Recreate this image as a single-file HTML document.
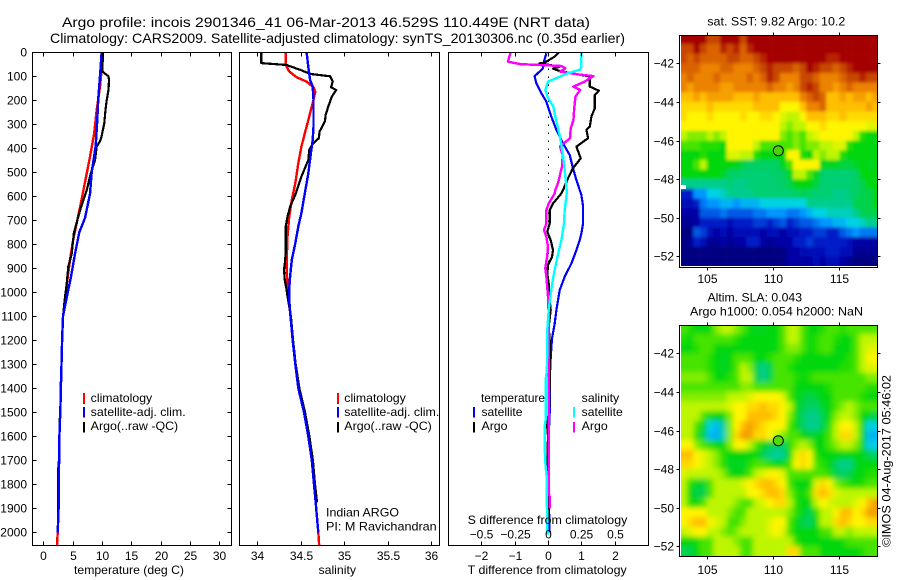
<!DOCTYPE html>
<html lang="en">
<head>
<meta charset="utf-8">
<title>Argo profile 2901346_41</title>
<style>
html,body{margin:0;padding:0;background:#fff;}
svg{display:block;}
text{font-family:"Liberation Sans",sans-serif;font-size:12px;fill:#000;}
</style>
</head>
<body>
<svg id="chart" xmlns="http://www.w3.org/2000/svg" width="900" height="580" viewBox="0 0 900 580">
  <rect width="900" height="580" fill="#fff"/>
  <defs>
    <clipPath id="clipT"><rect x="32" y="52" width="200" height="494"/></clipPath>
    <clipPath id="clipS"><rect x="239" y="52" width="201" height="494"/></clipPath>
    <clipPath id="clipD"><rect x="448" y="52" width="201" height="494"/></clipPath>
    <clipPath id="clipSst"><rect x="681" y="36" width="196" height="230"/></clipPath>
    <clipPath id="clipSla"><rect x="681" y="326" width="196" height="230"/></clipPath>
    <filter id="blurSst" filterUnits="userSpaceOnUse" x="650" y="10" width="250" height="280"><feGaussianBlur stdDeviation="1.5"/></filter>
    <filter id="blurSla" filterUnits="userSpaceOnUse" x="650" y="300" width="250" height="280"><feGaussianBlur stdDeviation="2.6"/></filter>
  </defs>

  <text x="62" y="27" textLength="528" lengthAdjust="spacingAndGlyphs" style="font-size:14px">Argo profile: incois 2901346_41 06-Mar-2013 46.529S 110.449E (NRT data)</text>
  <text x="50" y="43" textLength="575" lengthAdjust="spacingAndGlyphs" style="font-size:14px">Climatology: CARS2009. Satellite-adjusted climatology: synTS_20130306.nc (0.35d earlier)</text>

  <g id="panelT"></g>
  <g id="panelS"></g>
  <g id="panelD"></g>
  <g id="mapSst"></g>
  <g id="mapSla"></g>

  <text x="74" y="574" textLength="110" lengthAdjust="spacingAndGlyphs">temperature (deg C)</text>
  <text x="318.5" y="574" textLength="37.5" lengthAdjust="spacingAndGlyphs">salinity</text>
  <text x="467.7" y="574" textLength="159" lengthAdjust="spacingAndGlyphs">T difference from climatology</text>
  <text x="467.7" y="524" textLength="159.6" lengthAdjust="spacingAndGlyphs">S difference from climatology</text>

  <g>
    <rect x="83" y="393" width="2" height="11" fill="#f00"/>
    <rect x="83" y="407" width="2" height="10.5" fill="#00f"/>
    <rect x="83" y="422" width="2" height="10.5" fill="#000"/>
    <text x="90.7" y="402" textLength="61.5" lengthAdjust="spacingAndGlyphs">climatology</text>
    <text x="90.7" y="416" textLength="95" lengthAdjust="spacingAndGlyphs">satellite-adj. clim.</text>
    <text x="90.7" y="430" textLength="87.5" lengthAdjust="spacingAndGlyphs">Argo(..raw -QC)</text>
  </g>
  <g>
    <rect x="337" y="393" width="2" height="11" fill="#f00"/>
    <rect x="337" y="407" width="2" height="10.5" fill="#00f"/>
    <rect x="337" y="422" width="2" height="10.5" fill="#000"/>
    <text x="344.3" y="402" textLength="61.5" lengthAdjust="spacingAndGlyphs">climatology</text>
    <text x="344.3" y="416" textLength="95" lengthAdjust="spacingAndGlyphs">satellite-adj. clim.</text>
    <text x="344.3" y="430" textLength="87.5" lengthAdjust="spacingAndGlyphs">Argo(..raw -QC)</text>
  </g>
  <text x="326" y="516.7" textLength="73" lengthAdjust="spacingAndGlyphs">Indian ARGO</text>
  <text x="326" y="530.7" textLength="110.7" lengthAdjust="spacingAndGlyphs">PI: M Ravichandran</text>
  <g>
    <rect x="473" y="407" width="2" height="10.5" fill="#00f"/>
    <rect x="473" y="422" width="2" height="10.5" fill="#000"/>
    <rect x="573" y="407" width="2" height="10.5" fill="#0ff"/>
    <rect x="573" y="422" width="2" height="10.5" fill="#f0f"/>
    <text x="481" y="402" textLength="64" lengthAdjust="spacingAndGlyphs">temperature</text>
    <text x="481.5" y="416" textLength="41" lengthAdjust="spacingAndGlyphs">satellite</text>
    <text x="481.5" y="430" textLength="26" lengthAdjust="spacingAndGlyphs">Argo</text>
    <text x="581.7" y="402" textLength="37.5" lengthAdjust="spacingAndGlyphs">salinity</text>
    <text x="581.7" y="416" textLength="41" lengthAdjust="spacingAndGlyphs">satellite</text>
    <text x="581.7" y="430" textLength="26" lengthAdjust="spacingAndGlyphs">Argo</text>
  </g>

  <text x="707.3" y="25.7" textLength="138" lengthAdjust="spacingAndGlyphs">sat. SST: 9.82 Argo: 10.2</text>
  <text x="707.5" y="301.3" textLength="94.5" lengthAdjust="spacingAndGlyphs">Altim. SLA: 0.043</text>
  <text x="690" y="315.7" textLength="173" lengthAdjust="spacingAndGlyphs">Argo h1000: 0.054 h2000: NaN</text>
  <text x="0" y="0" transform="translate(890.5 547) rotate(-90)" textLength="172" lengthAdjust="spacingAndGlyphs">©IMOS 04-Aug-2017 05:46:02</text>
</svg>

<script>
/* ---------- depth axis ---------- */
var depthTicks = [0,100,200,300,400,500,600,700,800,900,1000,1100,1200,1300,1400,1500,1600,1700,1800,1900,2000];

/* ---------- temperature panel ---------- */
var tempTicks = [0,5,10,15,20,25,30];
var climTDepth = [75,143,240,340,435,520,615,700,780,865,965,1020,1100,1200,1300,1400,1500,1600,1700,1800,1900,2000,2055];
var climTValues = [9.94,9.66,9.1,8.65,7.95,7.27,6.5,5.8,5.1,4.55,4.0,3.8,3.36,3.2,3.1,3.0,2.9,2.75,2.7,2.64,2.6,2.45,2.33];
var argoTDepth = [0,45,80,100,115,157,200,240,295,350,370,393,450,505,575,645,700,755,840,893,965,1020,1100,1200,1300,1400,1500,1550,1600,1700,1750,1800,1900,1950];
var argoTValues = [10.2,10.1,10.05,11.1,11.2,11.1,10.8,10.6,10.4,9.94,9.66,9.1,8.8,8.07,7.4,6.42,5.8,5.2,4.83,4.26,3.98,3.7,3.35,3.2,3.1,2.95,2.9,2.75,2.75,2.65,2.5,2.5,2.55,2.55];
var satTDepth = [0,100,185,280,390,500,590,690,750,840,935,990,1030,1100,1200,1300,1400,1500,1600,1700,1800,1900,2000];
var satTValues = [9.94,9.66,9.38,9.2,8.92,8.24,7.95,7.1,6.14,5.4,4.72,4.26,3.92,3.36,3.2,3.1,3.0,2.9,2.75,2.7,2.64,2.6,2.45];

/* ---------- salinity panel ---------- */
var salTicks = [34,34.5,35,35.5,36];
var climSDepth = [0,53,80,104,122,146,164,198,254,338,393,463,546,615,685,768,880,990,1030,1100,1200,1300,1400,1500,1600,1700,1800,1900,2000,2055];
var climSValues = [34.33,34.33,34.37,34.456,34.57,34.65,34.67,34.65,34.61,34.55,34.51,34.475,34.44,34.40,34.37,34.35,34.34,34.35,34.365,34.385,34.41,34.44,34.475,34.54,34.59,34.63,34.655,34.68,34.705,34.715];
var argoSDepth = [0,45,53,75,90,100,122,146,157,185,226,260,288,330,358,382,407,449,518,594,643,685,726,838,880,908,949,990,1018,1100,1200,1300,1400,1500,1600,1700,1800,1875];
var argoSValues = [34.05,34.05,34.34,34.51,34.61,34.84,34.87,34.85,34.91,34.86,34.82,34.79,34.78,34.72,34.71,34.64,34.6,34.59,34.51,34.44,34.38,34.35,34.33,34.33,34.32,34.31,34.32,34.34,34.35,34.39,34.415,34.445,34.487,34.552,34.602,34.642,34.667,34.69];
var satSDepth = [0,60,115,143,198,310,365,420,505,588,670,726,796,865,935,990,1030,1100,1200,1300,1400,1500,1600,1700,1800,1900,2000];
var satSValues = [34.57,34.59,34.61,34.64,34.65,34.65,34.64,34.62,34.59,34.55,34.51,34.475,34.44,34.40,34.38,34.37,34.37,34.385,34.41,34.44,34.475,34.54,34.59,34.63,34.655,34.68,34.705];

/* ---------- difference panel ---------- */
var diffTicks = [-2,-1,0,1,2];
var diffTickLabels = ['\u22122','\u22121','0','1','2'];
var sDiffTickLabels = ['\u22120.5','\u22120.25','0','0.25','0.5'];
var satDTDepth = [4,39,66,80,100,129,170,205,268,323,379,428,483,532,574,595,643,713,755,783,824,880,935,991,1033,1074,1130,1192,1300,1400,1500,1600,1700,1800,1900,2000];
var satDTValues = [-0.05,-0.12,-0.15,-0.25,-0.4,-0.35,-0.2,-0.05,0.1,0.25,0.45,0.65,0.75,0.85,0.95,1.0,1.05,1.05,1.0,0.95,0.85,0.7,0.5,0.35,0.3,0.25,0.2,0.12,0.07,0.05,0.05,0.02,0,0,0.03,0.05];
var argoDTDepth = [0,18,43,46,60,68,78,86,101,143,160,178,233,268,310,323,358,393,442,483,525,574,588,630,657,713,748,783,824,852,887,921,963,1033,1074,1144,1200,1400,1500,1550,1600,1700,1900,1950];
var argoDTValues = [0.32,0.2,-0.1,-0.25,0.35,0.15,0.35,0.65,1.25,1.25,1.52,1.4,1.4,1.3,1.25,1.15,1.2,0.85,0.98,0.75,0.6,0.45,0.4,0.15,0.05,0.05,-0.02,0.08,0.15,0.12,0,-0.02,0.02,0.05,0.08,0.02,0.05,0.05,0.03,-0.03,0,-0.02,0.02,0.02];
var argoDSDepth = [0,39,49,57,67,80,92,99,122,143,157,185,240,282,317,358,393,428,476,545,574,588,630,657,713,741,769,810,845,900,935,1018,1101,1200,1400,1837,1850,1900];
var argoDSValues = [-0.28,-0.3,-0.21,0.1,0.13,0.09,0.225,0.34,0.275,0.19,0.24,0.205,0.195,0.19,0.17,0.165,0.09,0.11,0.105,0.075,0.055,0.05,0.005,-0.012,-0.012,-0.03,-0.012,0,-0.005,-0.02,-0.012,0,0.005,0.005,0.005,0.005,0.012,0.012];
var satDSDepth = [0,60,72,87,122,157,191,226,282,351,421,491,574,588,657,713,783,852,935,1005,1074,1158,1200,1324,1366,1532,1560,1650,1726,1770,1880,1920,1990,2010];
var satDSValues = [0.25,0.25,0.24,0.15,0,-0.02,0,0.04,0.06,0.09,0.11,0.125,0.14,0.14,0.125,0.12,0.1,0.07,0.04,0.02,0.005,-0.005,-0.005,-0.008,-0.018,-0.018,-0.025,-0.025,-0.018,-0.01,-0.01,-0.005,-0.005,0];

/* ---------- map axes ---------- */
var lonTicks = [105,110,115];
var latTicks = [-42,-44,-46,-48,-50,-52];
var argoLon = 110.449;
var argoLat = -46.529;
var mapLonStart = 103;
var mapLatStart = -40.5;
var mapCellDeg = 0.5;

/* ---------- SST map levels (colour-scale level per 0.5 degree cell, north to south) ---------- */
var sstRows = [
[14,14,14,14,13,13,14,14,14,13,14,14,14,14,14,14,14,14,14,14,14,14,14,14,14,14,14,14,14,14],
[13,13,14,13,12.5,12.5,13.5,13,13.5,12.5,13.5,14,14,14,14,14,14,14,14,14,14,14,14,14,14,14,14,14,14,14],
[13,12.5,13,12.5,12.5,12.5,12.5,13,13,12.5,12.5,13,13.5,14,14,14,14,14,14,14,14,14,13.5,13.5,14,14,14,14,14,14],
[12.5,12.5,12.5,12,12,12,12.5,12.5,12,12,12,12.5,13,13.5,13,13,13,12.5,13,14,13.5,13,13,12.5,13,13.5,14,14,14,14],
[12,12.5,12,12,12,12.5,12,12,12,12,12.5,12,12.5,13.5,13,12,12,12,13,13,12.5,12,12,12,12.5,13,13,13.5,13,13],
[12,11.5,12,12,12,12,11.5,11.5,12,12,12,12,12,12.5,12,12,11.5,12,13,13.5,13,12,12,11.5,12,12.5,12,12,12,12],
[11,11,11.5,11,11.5,11.5,11.5,11.5,11,11,11,11.5,11,11,11,11,11,11,12,12.5,13,12.5,11,11,11.5,11,11.5,11.5,11,11.5],
[10.5,10.5,10.5,10.5,11,10.5,10.5,10.5,10.5,10.5,10.5,11,11,11,11,10,10,10,11,12,12,12.5,11,11,11,11,11,11,11.5,11],
[10.5,10,10,10,10.5,10,10,10,10,10.5,10,10,10.5,10.5,10,9.5,9,9,10,11,11,11,10.5,10.5,11,10.5,10.5,10.5,10.5,10.5],
[10,10,10,10,10,10,10,10,10,10,10,10,10,10,10,9,8.5,9,9,10,10,10.5,10,10,10,10,10,10,9.5,9.5],
[9,8.5,8.5,8.5,9,8.5,9,10,10,10,10,10,10,10,10,8.5,8,8.5,8,9,9.5,10,10,10,10,10,9,7.5,7,7],
[8,8,8,7.5,7.5,7.5,7,10,10,10,10,9,8,8,8,8,8,8.5,8,8.5,8.5,9,9,9.5,9.5,7.5,7,7,7,7],
[7,7,7,7.5,7,7,7,9.5,9.5,9,9,7.5,7,7,7,7,10,10,7.5,7,9,8.5,9,9,7.5,7,7,7,7,7],
[7,7,8,9,7,7,7,7,6.8,6.5,6.3,6.3,6.3,6.3,6.3,6.8,8,10,10,10,10,6.8,6.8,6.8,6.6,6.6,6.8,7,6.8,7],
[7,7,7,7,7,7,6.8,6.3,6.3,6.2,6.2,6.2,6.2,6.2,6.3,6.3,6.8,9,9,8,6.8,6.3,6.2,6.2,6.2,6.2,6.3,7,7,7],
[6,6,6,6,6,6,6,6.2,6,6,6.2,6.2,6.2,6.2,6.2,6.3,6.5,7,7,7,6.6,6.2,6.2,6.2,6.2,6.2,6.3,6.5,7,7],
[2,2,4,4,5,5,5.5,6,6,6,6,6.2,6.2,6.2,6.2,6.2,6.2,6.3,6.5,6.3,6.2,6.2,6.2,6,6,6.2,6.3,6.5,6.5,7],
[1.5,1.5,2,3.5,4,4,4.5,4.5,4,4.5,4.5,4.5,5,5,5,5,5,5,5,6,6,6,6,6,6,6,6.5,6.5,6.5,7],
[1,1,1,3,3,3,3.5,3,3,3,3,3.5,3.5,4,4,4,3.5,3.5,4,4.5,5,5,5.5,5.5,5.5,5.5,6,6.5,6.5,6.5],
[0.5,0.5,1,2,2,2,2,1.5,2,2,2,2.5,2.5,2,2.5,3,2,2.5,3,3,3.5,4,4,4.5,4.5,5,5,5.5,6,6],
[0,0,3,2.5,1.5,1,1.5,1,1.5,1.5,1.5,1.5,1,1.5,1.5,1,1.5,1.5,2,2,2.5,2.5,2,2,3,3.5,4,3.5,3.5,3.5],
[0,0.5,2,1.5,0.5,0.5,1,0.5,1,1,2,2,1,0.5,1,1,1,2,2,2.5,2,2,2,2,2,1.5,1,1,1,1],
[0,0,0,0,0,0,0,0,0,0,0,0,0,0,0,0,1,1,1.5,1.5,1.5,1.5,2,2,1.5,1.5,0.5,0.5,0.5,0.5],
[0,0,0,0,0,0,0,0,0,0,0,0,0,0,0,0,1,1,1,1,1.5,1,1.5,1.5,1,0.5,0,0,0,0]
];

/* ---------- altimeter SLA map levels ---------- */
var slaRows = [
[8,7.5,7,7,7,8.5,9,9,8.5,8,7,6.8,6.8,7,7,8,9,9,8,7,7,7.5,8,8,7.5,8,8,8,8,8],
[7.5,7,8,8,8,8,8,8,7.5,7,7,7,7,7,7,8,9,9,8,7,7.5,8,8,7.5,7,7,8,9,9,9],
[7,7,7.5,8,8,7,7,7,7,7,7,7,7,7,7,8,8.5,8.5,8,7,7.5,8,8,7,7,7,8,9,9.5,9.5],
[8,8,8,8,7.5,7,6.8,7,8,8,8,7,7,7.5,8,8,8,7.5,7,7,7,7,7,7,7,7.5,8,9,10,10],
[8,8,8,8,7.5,7,6.8,7,8,9,8.5,6.5,6,6.5,8,8,7.5,7,7,7,7,7,7,7,7.5,7.5,8,9,9.5,9.5],
[8.5,8.5,8.5,8.5,8,7,7,7.5,8,9,9,6.5,6,6.5,8,8,8,7.5,7,7.5,8,8,8,8,8,8,8,8,8.5,8.5],
[8,8,8,8,8,8,8,8,8,8.5,8.5,8,8,8,8,8,8,7,7,7,7,7,7.5,8,8,8,8,8,7.5,7.5],
[8.5,8.5,8.5,8.5,8.5,8.5,8.5,9,9,9,9.5,10,10,10,10,9.5,8,7,6.7,6.5,6.7,7,7,8,8,8,8,7.5,7,7],
[9,9,9,9,9,9,9,9.5,10,10,10.5,10.5,11,10.5,10.5,10,9,7,6.5,6.3,6.3,6.8,7,8,8.5,9,8.5,8,8,8],
[9,9,9,8,7.2,7,7,8.5,10,10,11,11,11,11,10.5,10,8.5,7,6.3,6,6,6.5,7,8.5,9,9,8.5,7,6.8,6.5],
[9,9,8,7,5,4.6,5.8,8.5,10,11,11.5,11,10.5,10,10,10,8,7,6.3,6,6,6.5,7.5,9,10,10,9,7,5,5.2],
[9,9,7.5,6.5,4.6,4.4,5.5,8.5,10.5,11.5,11.5,10.5,10.5,10,9,8.5,8,8,7,6.7,6.8,7,8,9,10.5,10.5,9,6.8,4.5,4.5],
[10,10,8.5,8,7.5,7,7,8.5,10,10,9,8,7,6.5,6.3,6.3,7.5,8.5,9,8.5,7,7,8,8.5,9,9,8.5,6.8,4.8,5],
[11,11,10,9.5,9,8.5,7.5,7,7,7,7,7,6.5,6,5.8,6,7,9.5,10.5,10,7.5,7,7,7,7,7,7,6.8,6.5,6.3],
[10.5,10.5,10,9.5,9,8.5,7.5,6.8,6.8,6.8,7.5,8,8,7.5,7,7,8,10,10.5,10,8,7.5,7,6.3,6,6,6.8,7,7,7],
[9.5,9,9,9,9,9,8.5,7.2,7,7,8,9,9.5,10,10,9.5,8,8,8,8,8,8,7.5,6.5,6.3,6.5,7,7,7.5,7.5],
[9,7.5,6.8,6.7,8,9,9,9,9,9.5,10,10.5,11,11,10.5,10,8,7,7,7,9.5,10.5,10,8.5,8,7.5,7,7.5,8,8],
[9,7,6.5,6.5,8,9,9,9,9,9,10,10,10.5,11,11,10.5,8.5,7.5,7,8,10.5,11,10.5,9.5,9,9,9,9,9,9],
[9,7.5,7,8,9,9,9,9,8.5,8,8,9,9.5,10,10.5,10.5,9,7.5,7,7,9,10,9.5,9,9,9,9.5,10,11,11.5],
[10,10,10,10,9,9,9,8.5,8,8,9,9,9,9,9,9,8.5,7.5,6.8,6.5,7.5,9,9,10,11,11,10,10.5,11.5,11.5],
[10,10.5,11,11,10,9.5,9,8,7.8,8.5,9,9,9,9.5,10,10,8,7,6.5,6.3,7,9,9,10.5,11,10.5,10,10,10.5,10.5],
[9,9.5,10,10,9,9,8.5,8,8.5,9,9,9,9,9.5,10,9.5,8,7,7,7,7,8,8,9,9,8.5,9,9,9,9],
[7,7,7.2,8,8,9,9,9,8.5,8,8,9,9,9,9,9,9,7.5,7,7,7,7,7,7,7.2,8,8,8,8,8],
[6.5,6.5,7,8,8,9,9,9,9,8,8,9,9,9,9,9,10.5,10.5,8,8,8,7,7,7,7,7,7,7.5,8,8]
];

/* ---------- colour scale ---------- */
var levelColors = [[0,0,128],[0,0,165],[0,30,200],[0,90,230],[0,150,255],[0,210,230],[0,205,140],[0,215,10],[70,228,0],[190,245,0],[255,245,0],[255,190,0],[235,130,0],[200,70,0],[165,0,0]];
function levelColor(v){
  var i=Math.max(0,Math.min(levelColors.length-2,Math.floor(v)));
  var f=Math.max(0,Math.min(1,v-i));
  var a=levelColors[i],b=levelColors[i+1];
  return 'rgb('+Math.round(a[0]+(b[0]-a[0])*f)+','+Math.round(a[1]+(b[1]-a[1])*f)+','+Math.round(a[2]+(b[2]-a[2])*f)+')';
}

/* ---------- helpers and axis functions ---------- */
var NS='http://www.w3.org/2000/svg';
function mk(parent,tag,attrs,txt){
  var e=document.createElementNS(NS,tag);
  for(var k in attrs){e.setAttribute(k,attrs[k]);}
  if(txt!==undefined){e.textContent=txt;}
  parent.appendChild(e);
  return e;
}
function depthY(d){return 52.3+d*0.24;}
function tempX(t){return 43.3+t*5.87;}
function salX(s){return 257+(s-34)*87;}
function dTX(t){return 548+t*33.4;}
function dSX(s){return 548+s*133.6;}
var PT={l:32.5,r:231.5,t:52.5,b:545.5};
var PS={l:239.5,r:439.5,t:52.5,b:545.5};
var PD={l:448.5,r:648.5,t:52.5,b:545.5};

function frame(g,p){
  var el=mk(g,'rect',{x:p.l,y:p.t,width:p.r-p.l,height:p.b-p.t,fill:'none',stroke:'#000','stroke-width':1,'shape-rendering':'crispEdges'});
  
  
}
function tickLine(g,x1,y1,x2,y2){
  var el=mk(g,'line',{x1:x1,y1:y1,x2:x2,y2:y2,stroke:'#000','stroke-width':1,'shape-rendering':'crispEdges'});
  
  
}
function tickText(g,x,y,anchor,s){
  var el=mk(g,'text',{x:x,y:y,'text-anchor':anchor},s);
  
  
}
function profile(g,clip,depths,values,xf,color,w,name){
  var pts=depths.map(function(d,i){return xf(values[i]).toFixed(1)+','+depthY(d).toFixed(1);}).join(' ');
  var el=mk(g,'polyline',{points:pts,fill:'none',stroke:color,'stroke-width':w,'stroke-linejoin':'round','shape-rendering':'crispEdges','clip-path':'url(#'+clip+')'});
  
  
}

/* ---------- temperature panel ---------- */
var gT=document.getElementById('panelT');
profile(gT,'clipT',climTDepth,climTValues,tempX,'#f00',2.4,'climatology-temperature-line');
profile(gT,'clipT',argoTDepth,argoTValues,tempX,'#000',2.2,'argo-temperature-line');
profile(gT,'clipT',satTDepth,satTValues,tempX,'#00f',2.4,'satellite-temperature-line');
frame(gT,PT);
depthTicks.forEach(function(d){
  var y=Math.round(depthY(d))+0.5;
  tickLine(gT,PT.l,y,PT.l+4,y);
  tickLine(gT,PT.r-4,y,PT.r,y);
  tickText(gT,27,y+4,'end',String(d));
});
tempTicks.forEach(function(t){
  var x=Math.round(tempX(t))+0.5;
  tickLine(gT,x,PT.t,x,PT.t+4);
  tickLine(gT,x,PT.b-4,x,PT.b);
  tickText(gT,x,560,'middle',String(t));
});

/* ---------- salinity panel ---------- */
var gS=document.getElementById('panelS');
profile(gS,'clipS',climSDepth,climSValues,salX,'#f00',2.4,'climatology-salinity-line');
profile(gS,'clipS',argoSDepth,argoSValues,salX,'#000',2.2,'argo-salinity-line');
profile(gS,'clipS',satSDepth,satSValues,salX,'#00f',2.4,'satellite-salinity-line');
frame(gS,PS);
salTicks.forEach(function(s){
  var x=Math.round(salX(s))+0.5;
  tickLine(gS,x,PS.t,x,PS.t+4);
  tickLine(gS,x,PS.b-4,x,PS.b);
  tickText(gS,x,560,'middle',String(s));
});

/* ---------- difference panel ---------- */
var gD=document.getElementById('panelD');
var zeroLine=mk(gD,'line',{x1:Math.round(dTX(0))+0.5,y1:depthY(0),x2:Math.round(dTX(0))+0.5,y2:PD.b,stroke:'#000','stroke-width':1.2,'stroke-dasharray':'1.5 6.5','shape-rendering':'crispEdges'});


profile(gD,'clipD',satDTDepth,satDTValues,dTX,'#00f',2.2,'satellite-t-difference-line');
profile(gD,'clipD',argoDTDepth,argoDTValues,dTX,'#000',2.2,'argo-t-difference-line');
profile(gD,'clipD',argoDSDepth,argoDSValues,dSX,'#f0f',2.4,'argo-s-difference-line');
profile(gD,'clipD',satDSDepth,satDSValues,dSX,'#0ff',2.4,'satellite-s-difference-line');
frame(gD,PD);
diffTicks.forEach(function(t,i){
  var x=Math.round(dTX(t))+0.5;
  tickLine(gD,x,PD.t,x,PD.t+4);
  tickLine(gD,x,PD.b-4,x,PD.b);
  tickText(gD,x,560,'middle',diffTickLabels[i]);
  tickText(gD,x,538.7,'middle',sDiffTickLabels[i]);
});

/* ---------- maps ---------- */
function lonX(l){return 706.7+(l-105)*13.27;}
function buildMap(g,rows,top42,frameTop,frameBottom,clip,filter,extend,markerFill,tickY){
  function latY(l){return top42+(-42-l)*19.3;}
  var wrap=mk(g,'g',{'clip-path':'url(#'+clip+')'});
  
  
  var cells=mk(wrap,'g',{filter:'url(#'+filter+')'});
  
  
  rows.forEach(function(row,r){
    row.forEach(function(v,c){
      var lon=mapLonStart+c*mapCellDeg, lat=mapLatStart-r*mapCellDeg;
      var x=lonX(lon), y=latY(lat), w=lonX(lon+mapCellDeg)-x, h=latY(lat-mapCellDeg)-y;
      if(c===0){x-=extend;w+=extend;}
      if(c===row.length-1){w+=extend;}
      if(r===0){y-=extend;h+=extend;}
      if(r===rows.length-1){h+=extend;}
      var cell=mk(cells,'rect',{x:x.toFixed(2),y:y.toFixed(2),width:(w+0.3).toFixed(2),height:(h+0.3).toFixed(2),fill:levelColor(v)});
      
      
    });
  });
  var fr=mk(g,'rect',{x:679.5,y:frameTop,width:198,height:frameBottom-frameTop,fill:'none',stroke:'#000','stroke-width':1,'shape-rendering':'crispEdges'});
  
  
  lonTicks.forEach(function(l){
    var x=Math.round(lonX(l))+0.5;
    tickLine(g,x,frameTop-3,x,frameTop);
    tickLine(g,x,frameBottom,x,frameBottom+3);
    tickText(g,x,tickY,'middle',String(l));
  });
  latTicks.forEach(function(l){
    var y=Math.round(latY(l))+0.5;
    tickLine(g,676.5,y,679.5,y);
    tickLine(g,877.5,y,880.5,y);
    tickText(g,674,y+4,'end','\u2212'+Math.abs(l));
  });
  var marker=mk(g,'circle',{cx:lonX(argoLon).toFixed(1)-0.7,cy:latY(argoLat).toFixed(1),r:5,fill:markerFill,stroke:'#000','stroke-width':1});
  
  
}
var gSst=document.getElementById('mapSst');
buildMap(gSst,sstRows,63.3,35.5,267.5,'clipSst','blurSst',12,'rgb(70,215,0)',283);
var missing=mk(gSst,'rect',{x:681,y:185,width:5,height:4,fill:'#fff'});


buildMap(document.getElementById('mapSla'),slaRows,353.3,325.5,556.5,'clipSla','blurSla',12,'rgb(80,220,0)',574);
</script>
</body>
</html>
